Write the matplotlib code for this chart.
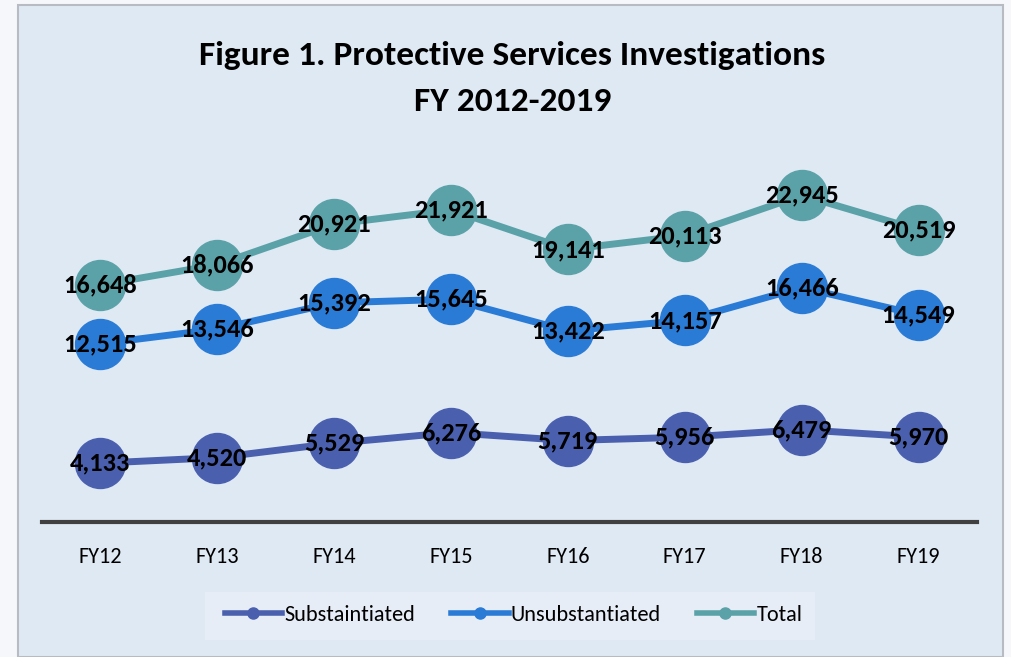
import matplotlib
matplotlib.use("Agg")
import matplotlib.pyplot as plt
from matplotlib.patches import Rectangle
from matplotlib import font_manager

years = ["FY12", "FY13", "FY14", "FY15", "FY16", "FY17", "FY18", "FY19"]
substantiated = [4133, 4520, 5529, 6276, 5719, 5956, 6479, 5970]
unsubstantiated = [12515, 13546, 15392, 15645, 13422, 14157, 16466, 14549]
total = [16648, 18066, 20921, 21921, 19141, 20113, 22945, 20519]

names = {f.name for f in font_manager.fontManager.ttflist}
NARROW = next((n for n in ["Carlito", "Roboto Condensed", "Open Sans Condensed",
                           "Asap Condensed"] if n in names), "DejaVu Sans")

BG = "#dfe9f4"
series = [
    ("Substaintiated", substantiated, "#4a60ae"),
    ("Unsubstantiated", unsubstantiated, "#2a7bd6"),
    ("Total", total, "#5ba2a8"),
]

fig = plt.figure(figsize=(10.11, 6.57), dpi=100)
fig.patch.set_facecolor("#f5f7fa")
fig.patches.append(Rectangle((18 / 1011, 0), 985 / 1011, 652 / 657, transform=fig.transFigure,
                             facecolor=BG, edgecolor="#b8bcc2", lw=1.5, zorder=0))
fig.patches.append(Rectangle((205 / 1011, 17 / 657), 610 / 1011, 48 / 657, transform=fig.transFigure,
                             facecolor="#e6edf6", edgecolor="none", zorder=0.5))

ax = fig.add_axes([42 / 1011, 135 / 657, 935 / 1011, 356 / 657])
ax.set_zorder(5)
ax.set_facecolor("none")
x = list(range(len(years)))
for name, vals, color in series:
    ax.plot(x, vals, color=color, lw=5, marker="o", ms=36, label=name,
            solid_capstyle="round", zorder=2)
    for xi, v in zip(x, vals):
        ax.text(xi, v, f"{v:,}", ha="center", va="center", fontsize=19,
                fontweight="bold", family=NARROW, color="black", zorder=3)

ax.set_xlim(-0.5, len(years) - 0.5)
ax.set_ylim(0, 25000)
ax.set_yticks([])
ax.set_xticks(x)
ax.set_xticklabels(years, family=NARROW, fontsize=16)
ax.tick_params(axis="x", length=0, pad=18)
for s in ["top", "right", "left"]:
    ax.spines[s].set_visible(False)
ax.spines["bottom"].set_color("#404040")
ax.spines["bottom"].set_linewidth(3)

fig.text(0.507, 0.915, "Figure 1. Protective Services Investigations", ha="center", va="center",
         fontsize=25.5, fontweight="bold", family=NARROW)
fig.text(0.507, 0.845, "FY 2012-2019", ha="center", va="center",
         fontsize=25.5, fontweight="bold", family=NARROW)

handles = [plt.Line2D([0], [0], color=c, lw=4, marker="o", ms=8) for _, _, c in series]
leg = fig.legend(handles, [n for n, _, _ in series], loc="center", bbox_to_anchor=(0.508, 42 / 657),
                 ncol=3, frameon=False, prop={"family": NARROW, "size": 16},
                 handlelength=2.6, handletextpad=0.1, columnspacing=1.6)
leg.set_zorder(6)

fig.savefig("out.png", dpi=100, facecolor=fig.get_facecolor())
